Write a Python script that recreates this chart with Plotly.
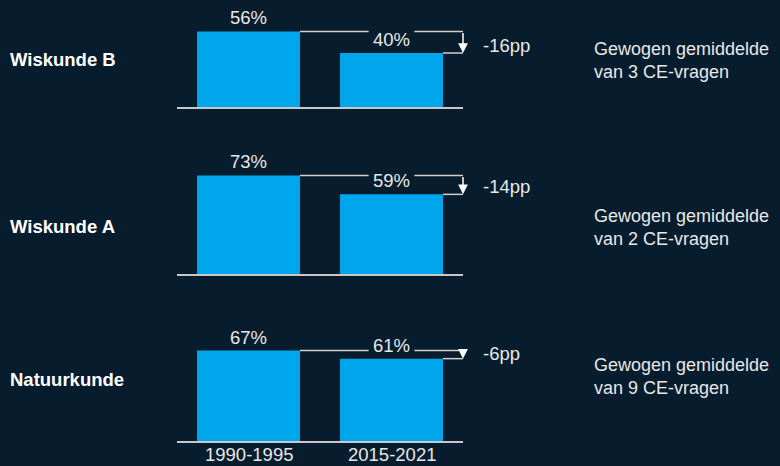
import plotly.graph_objects as go
from plotly.subplots import make_subplots

BG = "#071c2c"
BAR = "#00a7ec"
LINE = "#d0d0d0"
TXT = "#e8e8e8"
FONT = "Liberation Sans, Arial, sans-serif"
FS = 18.5

periodes = ["1990-1995", "2015-2021"]
vakken = ["Wiskunde B", "Wiskunde A", "Natuurkunde"]
scores_oud = [56, 73, 67]
scores_nieuw = [40, 59, 61]
verschil = ["-16pp", "-14pp", "-6pp"]
n_vragen = [3, 2, 9]

W, H, MB = 780, 466, 25
PLOT_H = H - MB

def px_x(p):
    return p / W

def px_y(p):
    return (PLOT_H - p) / PLOT_H

baseline_px = [107, 274, 441]
panel_h = 104
px_per_pct = 1.35
label_px = [59, 226, 379]
note_px = [60, 227, 376]
delta_px = [45, 186, 353]

BAR_W = 0.72

fig = make_subplots(rows=3, cols=1)

for i, vak in enumerate(vakken):
    r = i + 1
    fig.add_trace(go.Bar(
        x=periodes, y=[scores_oud[i], scores_nieuw[i]],
        marker_color=BAR, marker_line_width=0, width=BAR_W,
        text=[f"{scores_oud[i]}%", f"{scores_nieuw[i]}%"],
        textposition="outside", cliponaxis=False,
        textfont=dict(size=FS, color=TXT, family=FONT),
        showlegend=False, hoverinfo="skip",
    ), row=r, col=1)

    xa = "x" if r == 1 else f"x{r}"
    ya = "y" if r == 1 else f"y{r}"
    v1, v2 = scores_oud[i], scores_nieuw[i]
    # verbindingslijn vanaf top eerste staaf, met opening rond label tweede staaf
    for x0, x1 in [(BAR_W / 2, 0.84), (1.16, 1.54)]:
        fig.add_shape(type="line", xref=xa, yref=ya, x0=x0, x1=x1, y0=v1, y1=v1,
                      line=dict(color=LINE, width=1.5))
    fig.add_shape(type="line", xref=xa, yref=ya, x0=1 + BAR_W / 2, x1=1.54,
                  y0=v2, y1=v2, line=dict(color=LINE, width=1.5))
    fig.add_annotation(x=1.5, y=v2, ax=1.5, ay=v1, xref=xa, yref=ya,
                       axref=xa, ayref=ya, text="", showarrow=True,
                       arrowhead=2, arrowsize=1.3, arrowwidth=1.5,
                       arrowcolor="white", standoff=0, startstandoff=0)

    fig.add_annotation(x=px_x(481), y=px_y(delta_px[i]), xref="paper", yref="paper",
                       text=verschil[i], showarrow=False, xanchor="left",
                       yanchor="middle", font=dict(size=FS, color=TXT, family=FONT))
    fig.add_annotation(x=px_x(8), y=px_y(label_px[i]), xref="paper", yref="paper",
                       text=f"<b>{vak}</b>", showarrow=False, xanchor="left",
                       yanchor="middle", font=dict(size=FS, color="white", family=FONT))
    fig.add_annotation(x=px_x(592), y=px_y(note_px[i]), xref="paper", yref="paper",
                       text=f"Gewogen gemiddelde<br>van {n_vragen[i]} CE-vragen",
                       showarrow=False, xanchor="left", yanchor="middle", align="left",
                       font=dict(size=18, color=TXT, family=FONT))

    b = px_y(baseline_px[i])
    fig.update_yaxes(domain=[b, min(1, b + panel_h / PLOT_H)],
                     range=[0, panel_h / px_per_pct],
                     visible=False, row=r, col=1)
    fig.update_xaxes(domain=[px_x(177), px_x(463)], range=[-0.5, 1.5],
                     showline=True, linecolor="#c8c8c8", linewidth=2,
                     showgrid=False, zeroline=False, ticks="",
                     showticklabels=False, row=r, col=1)

# periode-labels onder het onderste paneel
for p in periodes:
    fig.add_annotation(x=p, y=px_y(455), xref="x3", yref="paper", text=p,
                       showarrow=False, yanchor="middle",
                       font=dict(size=FS, color=TXT, family=FONT))

fig.update_layout(
    width=W, height=H,
    paper_bgcolor=BG, plot_bgcolor=BG,
    margin=dict(l=0, r=0, t=0, b=MB),
    bargap=0.28,
    font=dict(family=FONT),
)

fig.write_html(
    "out.html",
    config={"displayModeBar": False},
    post_script=f"document.body.style.margin='0';document.body.style.background='{BG}';",
)
